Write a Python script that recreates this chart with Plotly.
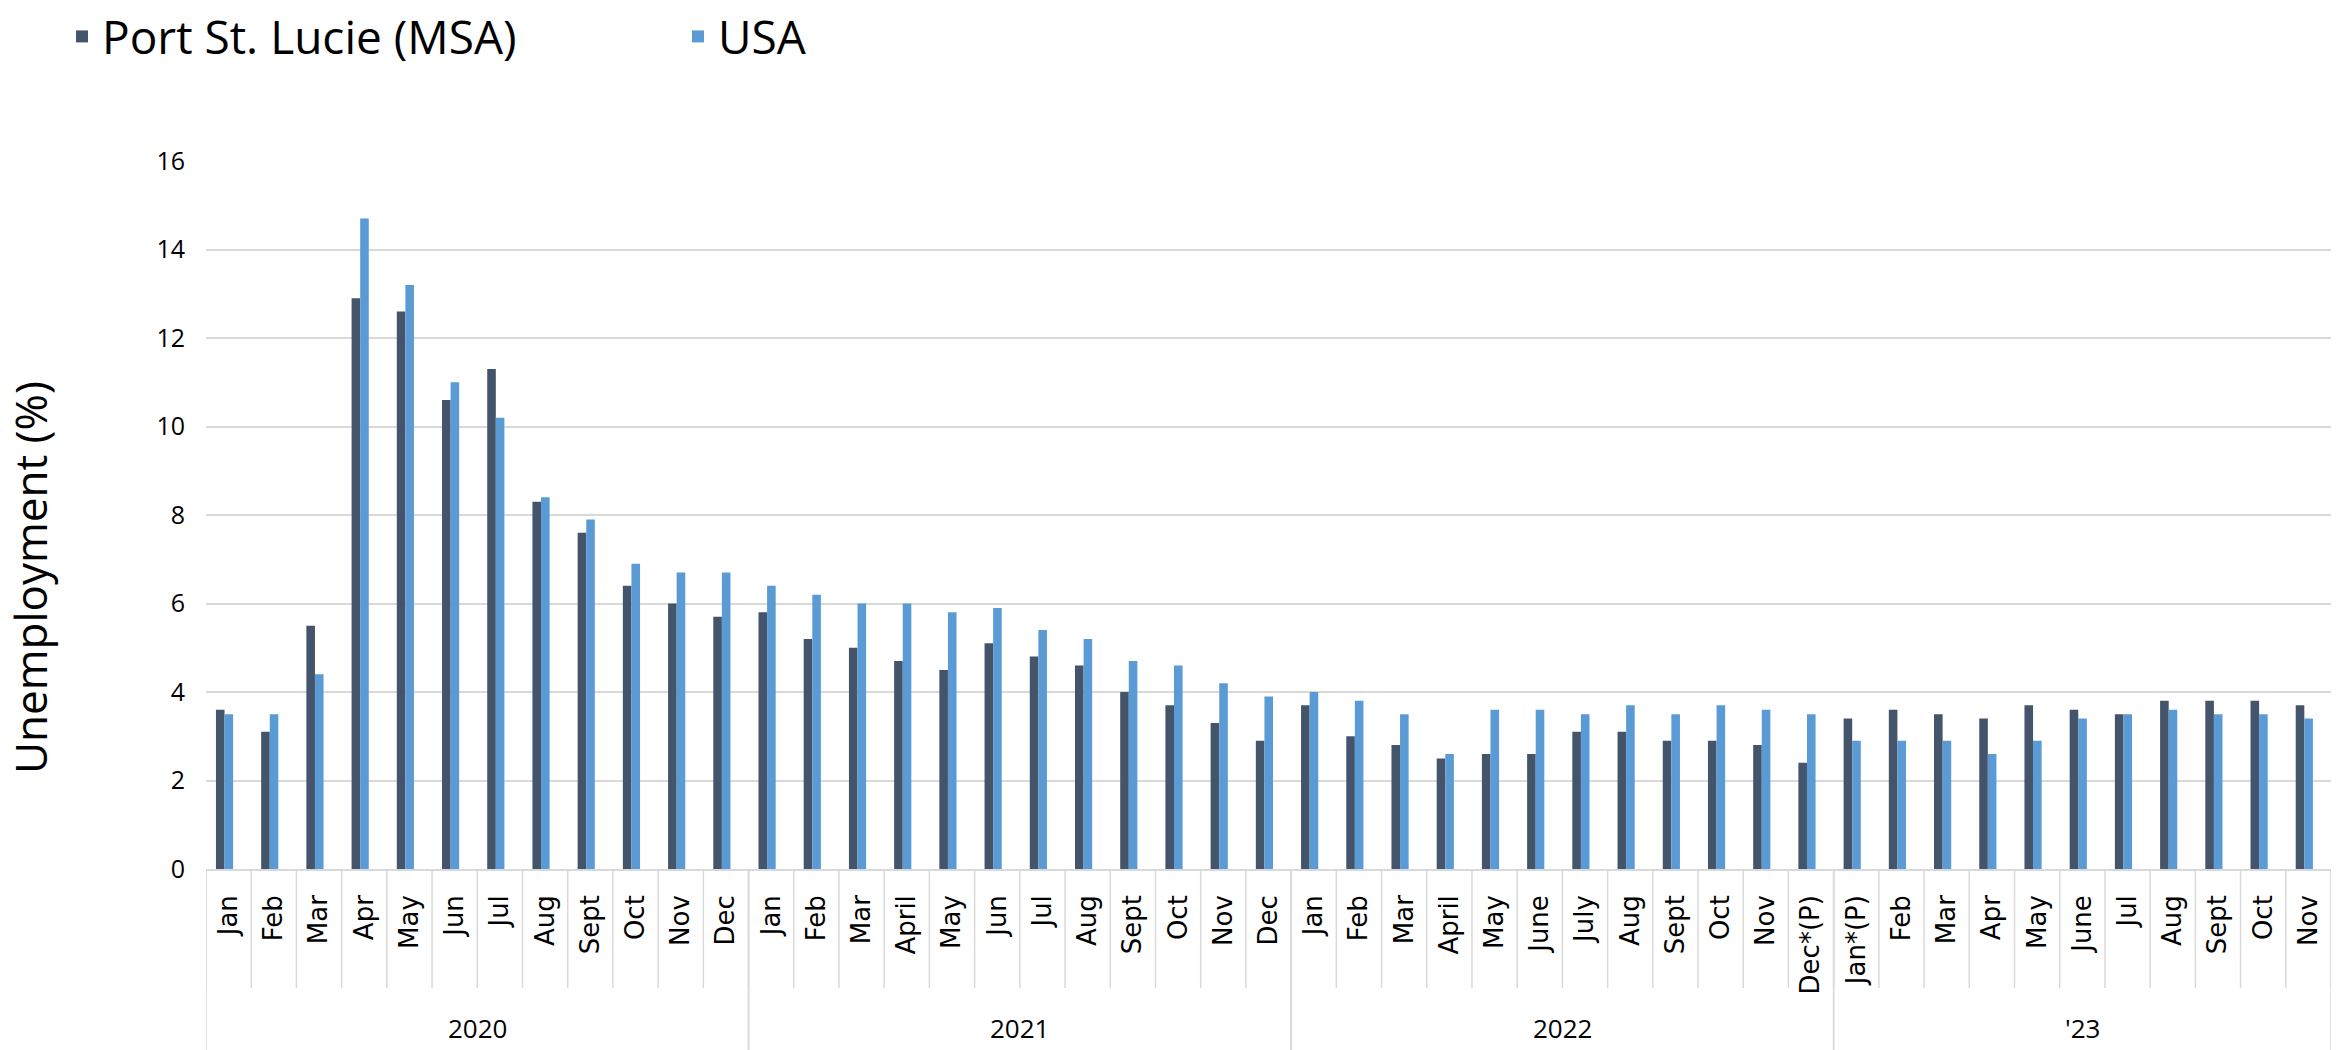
import plotly.graph_objects as go

years = ["2020"] * 12 + ["2021"] * 12 + ["2022"] * 12 + ["'23"] * 11
months = ["Jan", "Feb", "Mar", "Apr", "May", "Jun", "Jul", "Aug", "Sept", "Oct", "Nov", "Dec",
          "Jan", "Feb", "Mar", "April", "May", "Jun", "Jul", "Aug", "Sept", "Oct", "Nov", "Dec",
          "Jan", "Feb", "Mar", "April", "May", "June", "July", "Aug", "Sept", "Oct", "Nov", "Dec*(P)",
          "Jan*(P)", "Feb", "Mar", "Apr", "May", "June", "Jul", "Aug", "Sept", "Oct", "Nov"]

port_st_lucie = [3.6, 3.1, 5.5, 12.9, 12.6, 10.6, 11.3, 8.3, 7.6, 6.4, 6.0, 5.7,
                 5.8, 5.2, 5.0, 4.7, 4.5, 5.1, 4.8, 4.6, 4.0, 3.7, 3.3, 2.9,
                 3.7, 3.0, 2.8, 2.5, 2.6, 2.6, 3.1, 3.1, 2.9, 2.9, 2.8, 2.4,
                 3.4, 3.6, 3.5, 3.4, 3.7, 3.6, 3.5, 3.8, 3.8, 3.8, 3.7]
usa = [3.5, 3.5, 4.4, 14.7, 13.2, 11.0, 10.2, 8.4, 7.9, 6.9, 6.7, 6.7,
       6.4, 6.2, 6.0, 6.0, 5.8, 5.9, 5.4, 5.2, 4.7, 4.6, 4.2, 3.9,
       4.0, 3.8, 3.5, 2.6, 3.6, 3.6, 3.5, 3.7, 3.5, 3.7, 3.6, 3.5,
       2.9, 2.9, 2.9, 2.6, 2.9, 3.4, 3.5, 3.6, 3.5, 3.5, 3.4]

# unique category keys (year + month), shown with month labels only
x_keys = [f"{y} {m}" for y, m in zip(years, months)]

GRID = "#d9d9d9"
BAR_W = 0.19

fig = go.Figure()
fig.add_bar(x=x_keys, y=port_st_lucie, name="Port St. Lucie (MSA)",
            width=BAR_W, offset=-0.28,
            marker=dict(color="#44546A", line=dict(width=0)))
fig.add_bar(x=x_keys, y=usa, name="USA",
            width=BAR_W, offset=-0.09,
            marker=dict(color="#5B9BD5", line=dict(width=0)))

# category-axis frame: month cells and year groups
shapes = []
n = len(x_keys)
for i in range(n + 1):
    shapes.append(dict(type="line", xref="x", yref="paper",
                       x0=i - 0.5, x1=i - 0.5, y0=0, y1=-0.168,
                       line=dict(color=GRID, width=1.5)))
year_order = []
for y in years:
    if y not in year_order:
        year_order.append(y)
annotations = []
for y in year_order:
    idx = [i for i, yy in enumerate(years) if yy == y]
    first, last = idx[0], idx[-1]
    for b in (first - 0.5, last + 0.5):
        shapes.append(dict(type="line", xref="x", yref="paper",
                           x0=b, x1=b, y0=0, y1=-0.26,
                           line=dict(color=GRID, width=1.5)))
    annotations.append(dict(text=y, xref="x", yref="paper",
                            x=(first + last) / 2, y=(869 - 1028) / 708,
                            xanchor="center", yanchor="middle", showarrow=False,
                            borderpad=0,
                            font=dict(family="Open Sans", size=26, color="#000")))

annotations.append(dict(text="Unemployment (%)", textangle=-90,
                        xref="paper", yref="paper",
                        x=(30 - 206) / 2125, y=(869 - 578) / 708,
                        xanchor="center", yanchor="middle", showarrow=False,
                        borderpad=0,
                        font=dict(family="Open Sans", size=44, color="#000")))

fig.update_layout(
    width=2336, height=1050,
    margin=dict(l=206, r=5, t=161, b=181),
    barmode="overlay",
    plot_bgcolor="white", paper_bgcolor="white",
    showlegend=True,
    legend=dict(orientation="h", xref="container", yref="container",
                x=62 / 2336, y=1.0, xanchor="left", yanchor="top",
                font=dict(family="Open Sans", size=46, color="#000"),
                entrywidth=571, entrywidthmode="pixels"),
    shapes=shapes,
    annotations=annotations,
)
fig.update_yaxes(range=[0, 16], dtick=2, gridcolor=GRID, gridwidth=1.5,
                 zeroline=False, showline=False,
                 tickfont=dict(family="Open Sans", size=25, color="#000"),
                 ticklabelstandoff=20)
fig.update_xaxes(type="category", tickmode="array", tickvals=x_keys, ticktext=months,
                 range=[-0.5, n - 0.5],
                 tickangle=-90, ticks="", showgrid=False,
                 showline=True, linecolor=GRID, linewidth=1.5,
                 ticklabelstandoff=14,
                 tickfont=dict(family="DejaVu Sans", size=26, color="#000"))

fig.write_html("out.html")
